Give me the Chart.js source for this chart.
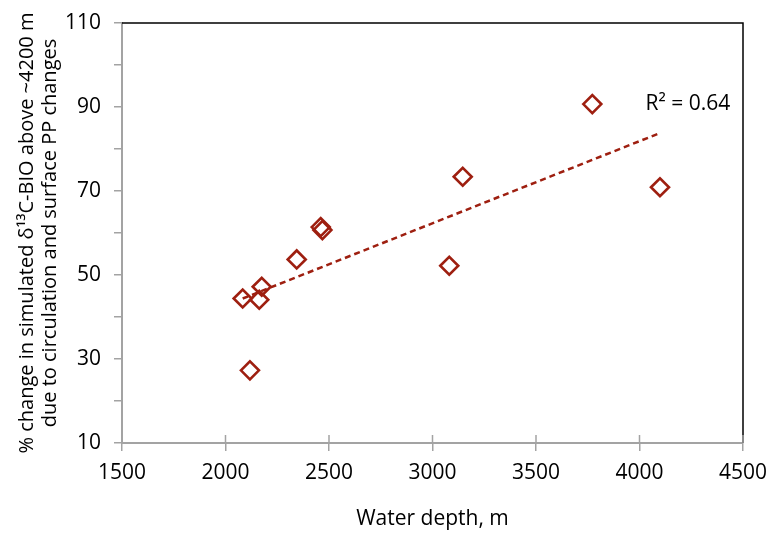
<!DOCTYPE html>
<html>
<head>
<meta charset="utf-8">
<script src="https://cdn.jsdelivr.net/npm/chart.js@4"></script>
<style>
  html, body { margin: 0; padding: 0; background: #fff; }
  #wrap { width: 772px; height: 538px; }
</style>
</head>
<body>
<div id="wrap"><canvas id="chart" width="772" height="538"></canvas></div>
<script>
// data
const depth = [2083, 2118, 2163, 2175, 2344, 2460, 2468, 3081, 3146, 3772, 4099];
const change = [44.4, 27.3, 44.1, 47.2, 53.7, 61.4, 60.7, 52.2, 73.4, 90.7, 70.9];
const trendDepth = [2083, 4099];
const trendChange = [44.4, 83.8];
const xTickValues = [1500, 2000, 2500, 3000, 3500, 4000, 4500];
const yTickLabels = [10, 30, 50, 70, 90, 110];
const r2Text = 'R\u00B2 = 0.64';
const r2At = [4234, 90.7];

const red = '#9e1f10';
const axisGray = '#a3a3a3';
const fontFamily = '"Open Sans", "DejaVu Sans", sans-serif';

const ctx = document.getElementById('chart').getContext('2d');

// top/right frame, inner half of the x ticks and the R² label
const extras = {
    id: 'extras',
    afterDraw(chart) {
        const { ctx, chartArea: a, scales } = chart;
        ctx.save();
        ctx.strokeStyle = '#000';
        ctx.lineWidth = 1.5;
        ctx.beginPath();
        ctx.moveTo(a.left, a.top);
        ctx.lineTo(a.right, a.top);
        ctx.lineTo(a.right, a.bottom);
        ctx.stroke();

        ctx.strokeStyle = axisGray;
        ctx.lineWidth = 1.5;
        xTickValues.forEach(v => {
            const px = scales.x.getPixelForValue(v);
            ctx.beginPath();
            ctx.moveTo(px, a.bottom - 8);
            ctx.lineTo(px, a.bottom);
            ctx.stroke();
        });

        ctx.fillStyle = '#000';
        ctx.font = '21px ' + fontFamily;
        ctx.textAlign = 'center';
        ctx.textBaseline = 'middle';
        ctx.fillText(r2Text, scales.x.getPixelForValue(r2At[0]), scales.y.getPixelForValue(r2At[1]));
        ctx.restore();
    }
};

const chart = new Chart(ctx, {
    type: 'scatter',
    data: {
        datasets: [
            {
                label: 'points',
                data: depth.map((d, i) => ({ x: d, y: change[i] })),
                pointStyle: 'rectRot',
                pointRadius: 9,
                pointBorderWidth: 2.6,
                borderColor: red,
                backgroundColor: 'rgba(0,0,0,0)',
                showLine: false
            },
            {
                label: 'trend',
                data: trendDepth.map((d, i) => ({ x: d, y: trendChange[i] })),
                showLine: true,
                borderColor: red,
                borderWidth: 2.5,
                borderDash: [6, 4],
                pointRadius: 0,
                fill: false
            }
        ]
    },
    options: {
        responsive: false,
        animation: false,
        layout: { padding: { top: 23, right: 29, left: 0, bottom: 0 } },
        plugins: {
            legend: { display: false },
            tooltip: { enabled: false }
        },
        scales: {
            x: {
                type: 'linear',
                position: 'bottom',
                min: 1500,
                max: 4500,
                afterFit: s => { s.height = 95; s.paddingLeft = 0; s.paddingRight = 0; },
                afterBuildTicks: s => { s.ticks = xTickValues.map(v => ({ value: v })); },
                ticks: {
                    padding: 9,
                    color: '#000',
                    font: { family: fontFamily, size: 21 },
                    callback: v => String(v)
                },
                grid: { drawOnChartArea: false, tickLength: 8, color: axisGray, lineWidth: 1.5 },
                border: { color: axisGray, width: 2 },
                title: {
                    display: true,
                    text: 'Water depth, m',
                    color: '#000',
                    font: { family: fontFamily, size: 21, lineHeight: 1.2 },
                    padding: { top: 0, bottom: 6 }
                }
            },
            y: {
                type: 'linear',
                min: 10,
                max: 110,
                afterFit: s => { s.width = 122; s.paddingTop = 0; s.paddingBottom = 0; },
                ticks: {
                    stepSize: 10,
                    padding: 13,
                    color: '#000',
                    font: { family: fontFamily, size: 21 },
                    callback: v => yTickLabels.includes(v) ? String(v) : ''
                },
                grid: { drawOnChartArea: false, tickLength: 8, color: axisGray, lineWidth: 1.5 },
                border: { color: axisGray, width: 2 },
                title: {
                    display: true,
                    text: ['% change in simulated \u03B4\u00B9\u00B3C-BIO above ~4200 m',
                           'due to circulation and surface PP changes'],
                    color: '#000',
                    font: { family: fontFamily, size: 20, lineHeight: 1.15 },
                    padding: { top: 16, bottom: 0 }
                }
            }
        }
    },
    plugins: [extras]
});
</script>
</body>
</html>
